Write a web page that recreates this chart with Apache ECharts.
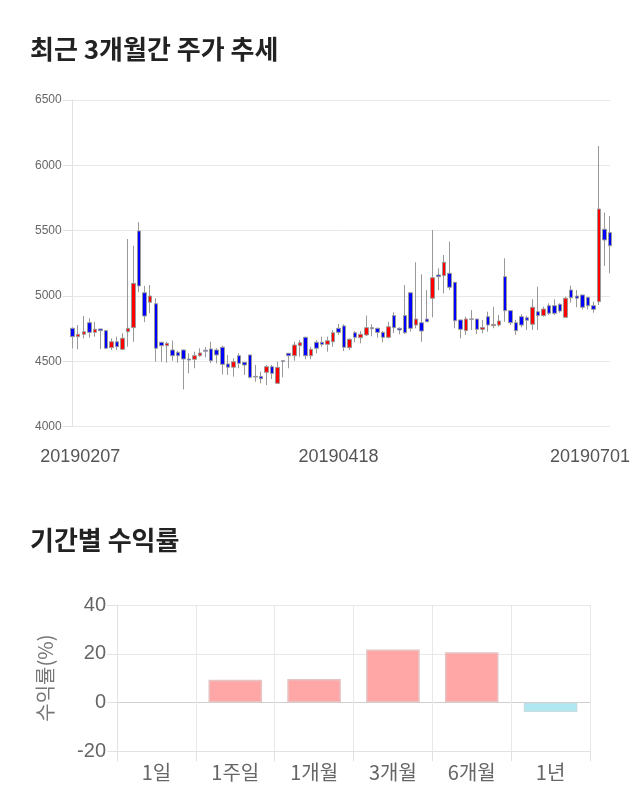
<!DOCTYPE html>
<html><head><meta charset="utf-8">
<script src="https://cdn.jsdelivr.net/npm/echarts@6/dist/echarts.min.js"></script>
<style>html,body{margin:0;padding:0;background:#fff}#c{width:640px;height:810px}</style>
</head><body><div id="c"></div>
<script>
const dates = [
'20190207','20190208','20190211','20190212','20190213','20190214','20190215','20190218','20190219','20190220','20190221','20190222','20190225','20190226','20190227','20190228',
'20190304','20190305','20190306','20190307','20190308','20190311','20190312','20190314','20190315','20190318','20190319','20190320','20190321','20190322','20190325','20190326','20190327','20190328','20190329',
'20190401','20190402','20190403','20190404','20190405','20190408','20190409','20190410','20190411','20190412','20190415','20190416','20190417','20190418','20190419','20190422','20190423','20190424','20190425','20190426','20190429','20190430',
'20190502','20190503','20190507','20190508','20190509','20190510','20190513','20190514','20190515','20190516','20190517','20190520','20190521','20190522','20190523','20190524','20190527','20190528','20190529','20190530','20190531',
'20190603','20190604','20190605','20190607','20190610','20190611','20190612','20190613','20190614','20190617','20190618','20190619','20190620','20190621','20190624','20190625','20190626','20190627','20190628',
'20190701'];
const opens  = [4753,4689,4707,4796,4722,4748,4735,4605,4650,4592,4727,4758,5498,5025,4952,4941,4646,4620,4587,4569,4587,4518,4516,4543,4585,4595,4587,4608,4480,4455,4543,4493,4549,4385,4385,4416,4459,4332,4505,4562,4543,4620,4684,4543,4646,4646,4630,4650,4753,4771,4605,4719,4681,4702,4758,4753,4722,4684,4850,4753,4850,5025,4778,4796,4824,4983,5161,5156,5174,5105,4817,4735,4825,4824,4745,4842,4773,4778,5148,4888,4796,4842,4834,4784,4880,4850,4926,4926,4937,4837,5046,5000,5008,4990,4926,4957,5511,5485];
const closes = [4689,4707,4727,4722,4745,4735,4600,4650,4612,4677,4753,5097,5077,4847,5000,4600,4620,4638,4543,4543,4518,4510,4543,4564,4578,4505,4549,4477,4455,4497,4485,4472,4378,4380,4367,4459,4408,4454,4500,4543,4625,4643,4543,4592,4600,4630,4658,4719,4722,4608,4669,4684,4707,4758,4750,4722,4684,4765,4758,4740,4719,4753,4824,4732,4803,5140,5148,5258,5067,4811,4745,4824,4822,4745,4760,4778,4783,4809,4888,4796,4735,4778,4815,4914,4850,4900,4868,4868,4885,4983,4987,4983,4914,4926,4898,5666,5429,5385];
const lows   = [4600,4592,4676,4681,4689,4594,4594,4587,4587,4587,4612,4650,5030,4800,4868,4497,4497,4490,4505,4490,4285,4408,4447,4536,4530,4487,4485,4400,4396,4383,4447,4396,4370,4344,4332,4319,4365,4327,4378,4447,4505,4536,4516,4516,4562,4612,4574,4612,4702,4579,4587,4646,4638,4694,4692,4681,4646,4676,4717,4707,4710,4727,4753,4650,4803,4837,5046,5020,5046,4753,4676,4702,4740,4709,4715,4727,4753,4765,4803,4778,4702,4760,4740,4740,4740,4842,4855,4855,4872,4837,4949,4914,4898,4898,4872,4931,5230,5174];
const highs  = [4760,4778,4847,4830,4803,4748,4740,4676,4689,4715,5436,5385,5565,5077,5084,4983,4646,4650,4660,4580,4590,4562,4574,4600,4610,4650,4600,4620,4549,4523,4562,4493,4549,4472,4421,4470,4472,4497,4510,4562,4650,4663,4689,4612,4663,4689,4689,4740,4786,4784,4676,4732,4732,4850,4784,4758,4732,4803,4875,4760,5084,5025,5258,5166,5046,5505,5212,5314,5416,5105,4817,4842,4893,4824,4817,4880,4918,4855,5289,4888,4817,4862,4850,4975,5071,4918,4944,4975,4944,4995,5079,5046,5008,4990,4957,6148,5638,5612];
const labelIdx = [0, 48, 97];

const periods = ['1일','1주일','1개월','3개월','6개월','1년'];
const returns = [0, 9.3, 9.7, 21.8, 20.6, -3.9];

const candles = opens.map((o, i) => [o, closes[i], lows[i], highs[i]]);
const FONT = "'Liberation Sans', Arial, 'Noto Sans CJK KR', sans-serif";
const KFONT = "'Noto Sans CJK KR', sans-serif";

const chart = echarts.init(document.getElementById('c'), null, {renderer: 'canvas'});
chart.setOption({
  animation: false,
  backgroundColor: '#fff',
  title: [
    {text: '최근 3개월간 주가 추세', left: 30, top: 36, padding: 0,
     textStyle: {fontSize: 26, fontWeight: 'bold', color: '#222', fontFamily: KFONT}},
    {text: '기간별 수익률', left: 30, top: 527, padding: 0,
     textStyle: {fontSize: 26, fontWeight: 'bold', color: '#222', fontFamily: KFONT}}
  ],
  grid: [
    {left: 72.7, right: 30, top: 100, height: 326.7},
    {left: 117, right: 50, top: 605, height: 146.3}
  ],
  xAxis: [
    {type: 'category', gridIndex: 0, data: dates, boundaryGap: false,
     axisLine: {show: false}, axisTick: {show: false}, splitLine: {show: false},
     axisLabel: {
       interval: (i) => labelIdx.includes(i), margin: 21, fontSize: 18, color: '#555', fontFamily: FONT,
       formatter: (v, i) => i === 0 ? '{a|' + v + '}' : (i === dates.length - 1 ? '{b|' + v + '}' : v),
       rich: {
         a: {padding: [0, 0, 0, 15], fontSize: 18, color: '#555', fontFamily: FONT},
         b: {padding: [0, 40, 0, 0], fontSize: 18, color: '#555', fontFamily: FONT}
       }
     }},
    {type: 'category', gridIndex: 1, data: periods,
     axisLine: {show: true, onZero: false, lineStyle: {color: '#e2e2e2'}},
     axisTick: {show: true, length: 10, lineStyle: {color: '#e2e2e2'}},
     splitLine: {show: true, lineStyle: {color: '#e8e8e8'}},
     axisLabel: {fontSize: 20, color: '#666', margin: 11, fontFamily: KFONT}}
  ],
  yAxis: [
    {type: 'value', gridIndex: 0, min: 4000, max: 6500, interval: 500,
     axisLine: {show: true, lineStyle: {color: '#e2e2e2'}},
     axisTick: {show: true, length: 10, lineStyle: {color: '#e2e2e2'}},
     splitLine: {show: true, lineStyle: {color: '#e8e8e8'}},
     axisLabel: {fontSize: 12, color: '#666', margin: 11, fontFamily: FONT, formatter: (v) => String(v)}},
    {type: 'value', gridIndex: 1, min: -20, max: 40, interval: 20,
     name: '수익률(%)', nameLocation: 'middle', nameGap: 62, nameRotate: 90,
     nameTextStyle: {fontSize: 20, color: '#777', fontFamily: KFONT},
     axisLine: {show: true, lineStyle: {color: '#e2e2e2'}},
     axisTick: {show: true, length: 10, lineStyle: {color: '#e2e2e2'}},
     splitLine: {show: true, lineStyle: {color: ['#e8e8e8', '#cfcfcf', '#e8e8e8', '#e8e8e8']}},
     axisLabel: {fontSize: 20, color: '#666', margin: 11, fontFamily: FONT, formatter: (v) => String(v)}}
  ],
  series: [
    {type: 'candlestick', xAxisIndex: 0, yAxisIndex: 0, data: candles, clip: true,
     barWidth: 4,
     itemStyle: {color: '#ff0000', color0: '#0000ff', borderColor: '#999', borderColor0: '#999', borderWidth: 1}},
    {type: 'bar', xAxisIndex: 1, yAxisIndex: 1, barWidth: '68%',
     data: returns.map(v => ({value: v, itemStyle: v > 0
       ? {color: '#ffa6a6', borderColor: '#e6c4c4', borderWidth: 1.5}
       : v < 0 ? {color: '#b0e8f2', borderColor: '#c4dde2', borderWidth: 1.5}
       : {color: 'transparent', borderWidth: 0}}))}
  ]
});
</script></body></html>
